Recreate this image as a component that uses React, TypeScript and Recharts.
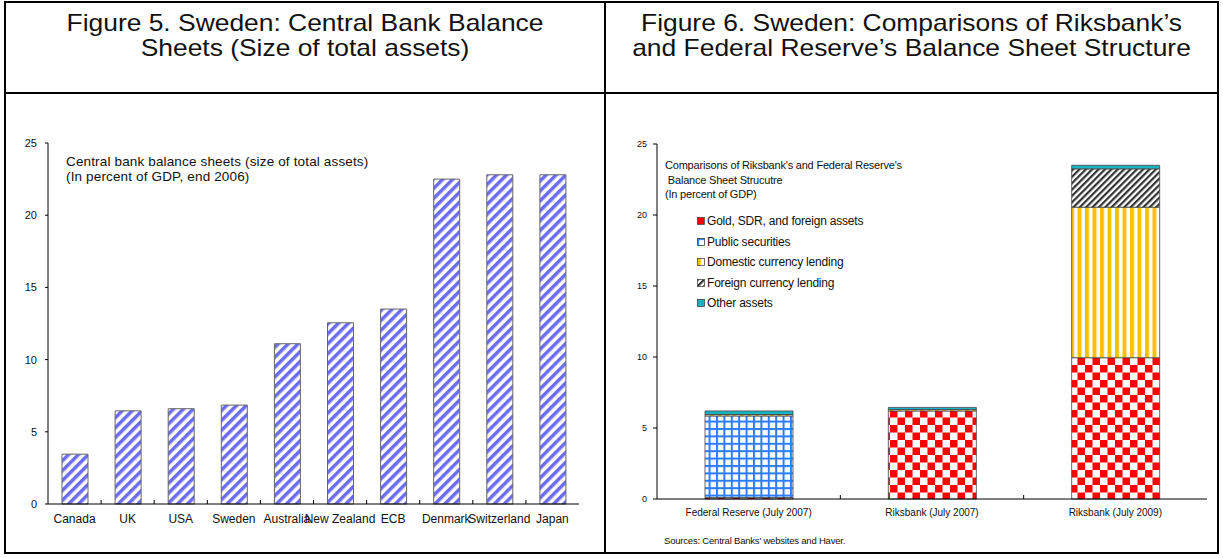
import { BarChart, Bar, XAxis, YAxis, Legend } from "recharts";

const countries = ["Canada", "UK", "USA", "Sweden", "Australia", "New Zealand", "ECB", "Denmark", "Switzerland", "Japan"];
const totalAssets = [3.45, 6.45, 6.6, 6.85, 11.1, 12.55, 13.5, 22.5, 22.8, 22.8];

const banks = ["Federal Reserve (July 2007)", "Riksbank (July 2007)", "Riksbank (July 2009)"];
const goldSdr = [0.1, 6.2, 9.95];
const publicSecurities = [5.75, 0, 0];
const domesticLending = [0.1, 0.1, 10.6];
const foreignLending = [0, 0, 2.7];
const otherAssets = [0.25, 0.15, 0.25];

const yTicks = [0, 5, 10, 15, 20, 25];

const FONT = '"Liberation Sans", Arial, sans-serif';

const leftData = countries.map((name, i) => ({ name, value: totalAssets[i] }));
const rightData = banks.map((name, i) => ({
  name,
  gold: goldSdr[i],
  pub: publicSecurities[i],
  dom: domesticLending[i],
  fx: foreignLending[i],
  other: otherAssets[i],
}));

const series = [
  { key: "gold", name: "Gold, SDR, and foreign assets", fill: "url(#pGold)" },
  { key: "pub", name: "Public securities", fill: "url(#pPub)" },
  { key: "dom", name: "Domestic currency lending", fill: "url(#pDom)" },
  { key: "fx", name: "Foreign currency lending", fill: "url(#pFx)" },
  { key: "other", name: "Other assets", fill: "#1ab3c6" },
];

function EdgeTick(props: any) {
  const { x, y, payload, index, count, dy, fontSize } = props;
  const edge = x + (payload.offset || 0);
  return (
    <g>
      <text x={x} y={y + dy} textAnchor="middle" fontSize={fontSize} fill="#111" fontFamily={FONT}>
        {payload.value}
      </text>
      {index < count - 1 && <line x1={edge} x2={edge} y1={y} y2={y - 4} stroke="#000" strokeWidth={1} />}
    </g>
  );
}

function SeriesLegend() {
  return (
    <div style={{ fontFamily: FONT, fontSize: 12, color: "#111", letterSpacing: -0.2 }}>
      {series.map((s) => (
        <div key={s.key} style={{ display: "flex", alignItems: "center", height: 20.5 }}>
          <svg width={8} height={8} style={{ marginRight: 2 }}>
            <rect x={0.5} y={0.5} width={7} height={7} fill={s.fill} stroke="#333" strokeWidth={0.7} />
          </svg>
          <span>{s.name}</span>
        </div>
      ))}
    </div>
  );
}

function Patterns() {
  return (
    <defs>
      <pattern id="pStripe" patternUnits="userSpaceOnUse" width={7} height={7} patternTransform="rotate(45)">
        <rect width={7} height={7} fill="#fff" />
        <rect width={3.5} height={7} fill="#6c6cf2" />
      </pattern>
      <pattern id="pGold" patternUnits="userSpaceOnUse" width={15} height={15}>
        <rect width={15} height={15} fill="#fff" />
        <rect width={7.5} height={7.5} fill="#ff0000" />
        <rect x={7.5} y={7.5} width={7.5} height={7.5} fill="#ff0000" />
      </pattern>
      <pattern id="pPub" patternUnits="userSpaceOnUse" width={7.4} height={7.4}>
        <rect width={7.4} height={7.4} fill="#fff" />
        <rect width={7.4} height={2} fill="#2b7cff" />
        <rect width={2} height={7.4} fill="#2b7cff" />
      </pattern>
      <pattern id="pDom" patternUnits="userSpaceOnUse" width={7.5} height={10}>
        <rect width={7.5} height={10} fill="#fff" />
        <rect width={4} height={10} fill="#ffc000" />
      </pattern>
      <pattern id="pFx" patternUnits="userSpaceOnUse" width={4.5} height={4.5} patternTransform="rotate(45)">
        <rect width={4.5} height={4.5} fill="#fff" />
        <rect width={2.2} height={4.5} fill="#333" />
      </pattern>
    </defs>
  );
}

const border = "#000";

const titleStyle = {
  position: "absolute" as const,
  top: 10,
  textAlign: "center" as const,
  fontSize: 24,
  lineHeight: "25px",
  color: "#111",
  transform: "scaleX(1.1)",
};

export default function App() {
  return (
    <div style={{ position: "absolute", left: 0, top: 0, width: 1223, height: 558, background: "#fff", fontFamily: FONT }}>
      {/* table frame */}
      <div style={{ position: "absolute", left: 4, top: 1, width: 1215, height: 553, border: `2px solid ${border}`, boxSizing: "border-box" }} />
      <div style={{ position: "absolute", left: 4, top: 92, width: 1215, height: 2, background: border }} />
      <div style={{ position: "absolute", left: 604, top: 1, width: 2, height: 553, background: border }} />

      <div style={{ ...titleStyle, left: 5, width: 600 }}>
        Figure 5. Sweden: Central Bank Balance
        <br />
        Sheets (Size of total assets)
      </div>
      <div style={{ ...titleStyle, left: 605, width: 613 }}>
        Figure 6. Sweden: Comparisons of Riksbank’s
        <br />
        and Federal Reserve’s Balance Sheet Structure
      </div>

      {/* left chart */}
      <div style={{ position: "absolute", left: 0, top: 95 }}>
        <BarChart width={605} height={458} data={leftData} margin={{ top: 48, right: 26, bottom: 19, left: 8 }}>
          <Patterns />
          <XAxis
            dataKey="name"
            height={30}
            axisLine={{ stroke: "#000" }}
            tickLine={false}
            tickSize={0}
            tickMargin={0}
            interval={0}
            tick={<EdgeTick count={countries.length} dy={19} fontSize={12} />}
          />
          <XAxis xAxisId="top" dataKey="name" orientation="top" height={0} tick={false} tickLine={false} axisLine={{ stroke: "#999" }} />
          <YAxis
            domain={[0, 25]}
            ticks={yTicks}
            width={40}
            tickSize={3}
            tickMargin={8}
            axisLine={{ stroke: "#000" }}
            tickLine={{ stroke: "#000" }}
            tick={{ fontSize: 11, fill: "#111", fontFamily: FONT }}
          />
          <YAxis yAxisId="r" orientation="right" domain={[0, 25]} width={0} tick={false} tickLine={false} axisLine={{ stroke: "#999" }} />
          <Bar dataKey="value" fill="url(#pStripe)" stroke="#666" strokeWidth={1} barSize={26} isAnimationActive={false} />
        </BarChart>
      </div>
      <div style={{ position: "absolute", left: 66, top: 154, fontSize: 13.5, lineHeight: "15px", color: "#111", letterSpacing: 0.15 }}>
        Central bank balance sheets (size of total assets)
        <br />
        (In percent of GDP, end 2006)
      </div>

      {/* right chart */}
      <div style={{ position: "absolute", left: 605, top: 95 }}>
        <BarChart width={613} height={458} data={rightData} margin={{ top: 49, right: 11, bottom: 24, left: 12 }}>
          <Patterns />
          <XAxis
            dataKey="name"
            height={30}
            axisLine={{ stroke: "#000" }}
            tickLine={false}
            tickSize={0}
            tickMargin={0}
            interval={0}
            tick={<EdgeTick count={banks.length} dy={17} fontSize={10} />}
          />
          <XAxis xAxisId="top" dataKey="name" orientation="top" height={0} tick={false} tickLine={false} axisLine={{ stroke: "#333" }} />
          <YAxis
            domain={[0, 25]}
            ticks={yTicks}
            width={40}
            tickSize={4}
            tickMargin={6}
            axisLine={{ stroke: "#000" }}
            tickLine={{ stroke: "#000" }}
            tick={{ fontSize: 9, fill: "#111", fontFamily: FONT }}
          />
          <YAxis yAxisId="r" orientation="right" domain={[0, 25]} width={0} tick={false} tickLine={false} axisLine={{ stroke: "#aaa" }} />
          {series.map((s) => (
            <Bar
              key={s.key}
              dataKey={s.key}
              name={s.name}
              stackId="a"
              fill={s.fill}
              stroke="#444"
              strokeWidth={0.8}
              barSize={88}
              isAnimationActive={false}
            />
          ))}
          <Legend
            layout="vertical"
            align="center"
            verticalAlign="middle"
            content={<SeriesLegend />}
            wrapperStyle={{ left: 92, top: 116, width: 260 }}
          />
        </BarChart>
      </div>
      <div style={{ position: "absolute", left: 665, top: 158, fontSize: 11, lineHeight: "14.5px", color: "#111", letterSpacing: -0.2, whiteSpace: "pre" }}>
        {"Comparisons of Riksbank's and Federal Reserve's\n Balance Sheet Strucutre\n(In percent of GDP)"}
      </div>
      <div style={{ position: "absolute", left: 664, top: 535, fontSize: 9.5, color: "#111", letterSpacing: -0.2 }}>
        Sources: Central Banks' websites and Haver.
      </div>
    </div>
  );
}
